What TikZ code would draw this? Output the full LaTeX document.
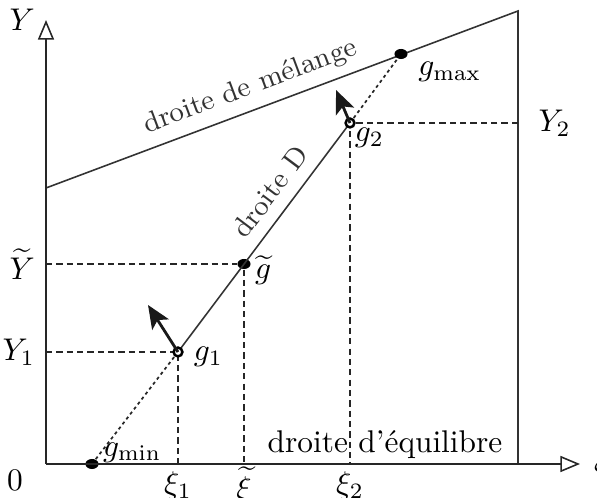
\documentclass[tikz,border=0pt]{standalone}
\usepackage{amsmath,amssymb}
\usetikzlibrary{positioning,calc,arrows.meta}
\tikzset{
axe/.style={black!85,line width=0.5pt,-{Triangle[open,length=2.2mm,width=1.8mm]}},
trait/.style={black!80,line width=0.5pt},
tiret/.style={black!85,dash pattern=on 2pt off 1.3pt,line width=0.45pt},
pointille/.style={black!85,dash pattern=on 1pt off 1pt,line width=0.55pt},
plein/.style={circle,fill=black,inner sep=0pt,minimum size=3.2pt,xscale=1.3},
creux/.style={circle,draw=black,fill=white,line width=0.8pt,inner sep=0pt,minimum size=2.8pt},
fleche/.style={-{Stealth[length=2.6mm,width=2.2mm,inset=0.6mm]},line width=0.9pt,black!90},
incline/.style={sloped,font=\small}
}

\begin{document}
\begin{tikzpicture}[x=1.12cm,y=1.12cm]
\useasboundingbox (-0.46,-0.34) rectangle (5.51,4.64);
% reperes
\coordinate (O) at (0,0);
\coordinate (ytop) at (0,4.44);
\coordinate (xend) at (5.34,0);
\coordinate (cbas) at (4.72,0);
\coordinate (chaut) at (4.72,4.53);
\coordinate (mgauche) at (0,2.76);
\coordinate (p1) at (1.32,1.12);
\coordinate (p2) at (3.04,3.41);
% droite de melange et bord droit
\draw[trait] (mgauche) -- node[pos=0.45,incline,above=-0.5pt] (tmel) {droite de m\'elange} (chaut) -- (cbas);
% points
\node[plein] (gmin) at (0.46,0) {};
\node[plein] (gmax) at (3.55,4.10) {};
\node[plein] (gt) at (1.98,2.00) {};
% projections
\draw[tiret] (O|-gt) -- (gt) -- (gt|-O);
\draw[tiret] (O|-p1) -- (p1) -- (p1|-O);
\draw[tiret] (cbas|-p2) -- (p2) -- (p2|-O);
% droite D
\draw[pointille] (gmin) -- (p1);
\draw[pointille] (p2) -- (gmax);
\draw[trait] (p1) -- node[pos=0.64,incline,above=0.5pt] (tD) {droite D} (p2);
\node[creux] (g1) at (p1) {};
\node[creux] (g2) at (p2) {};
% axes
\draw[axe] (O) -- (ytop);
\draw[axe] (O) -- (xend);
% vecteurs
\coordinate (v1) at (1.02,1.59);
\coordinate (v2) at (2.90,3.74);
\draw[fleche] (g1.center) -- (v1);
\draw[fleche] (g2.center) -- (v2);
% etiquettes
\node[left=0pt] (lY) at (ytop) {$Y$};
\node[right=1pt] (lxi) at (xend) {$\xi$};
\node (lO) at (-0.31,-0.16) {$0$};
\node[left=0pt] (lYt) at (O|-gt) {$\widetilde{Y}$};
\node[left=0pt] (lY1) at (O|-g1) {$Y_1$};
\node[right=3pt] (lY2) at (cbas|-g2) {$Y_2$};
\node[below=-1pt] (lxi1) at (g1|-O) {$\xi_1$};
\node[below=-2.5pt] (lxit) at (gt|-O) {$\widetilde{\xi}$};
\node[below=-1pt] (lxi2) at (g2|-O) {$\xi_2$};
\node[above right=-3pt and 0pt] (lgmin) at (gmin) {$g_{\min}$};
\node[right=1.5pt,yshift=-1.5pt] (lg1) at (g1) {$g_1$};
\node[below right=-6pt and 0pt] (lgt) at (gt) {$\widetilde{g}$};
\node[below right=-2pt and -2pt] (lg2) at (g2) {$g_2$};
\node[below right=-1pt and 2pt] (lgmax) at (gmax) {$g_{\max}$};
\node[anchor=south,inner sep=1.5pt] (teq) at (3.39,0) {droite d'\'equilibre};
\end{tikzpicture}
\end{document}
